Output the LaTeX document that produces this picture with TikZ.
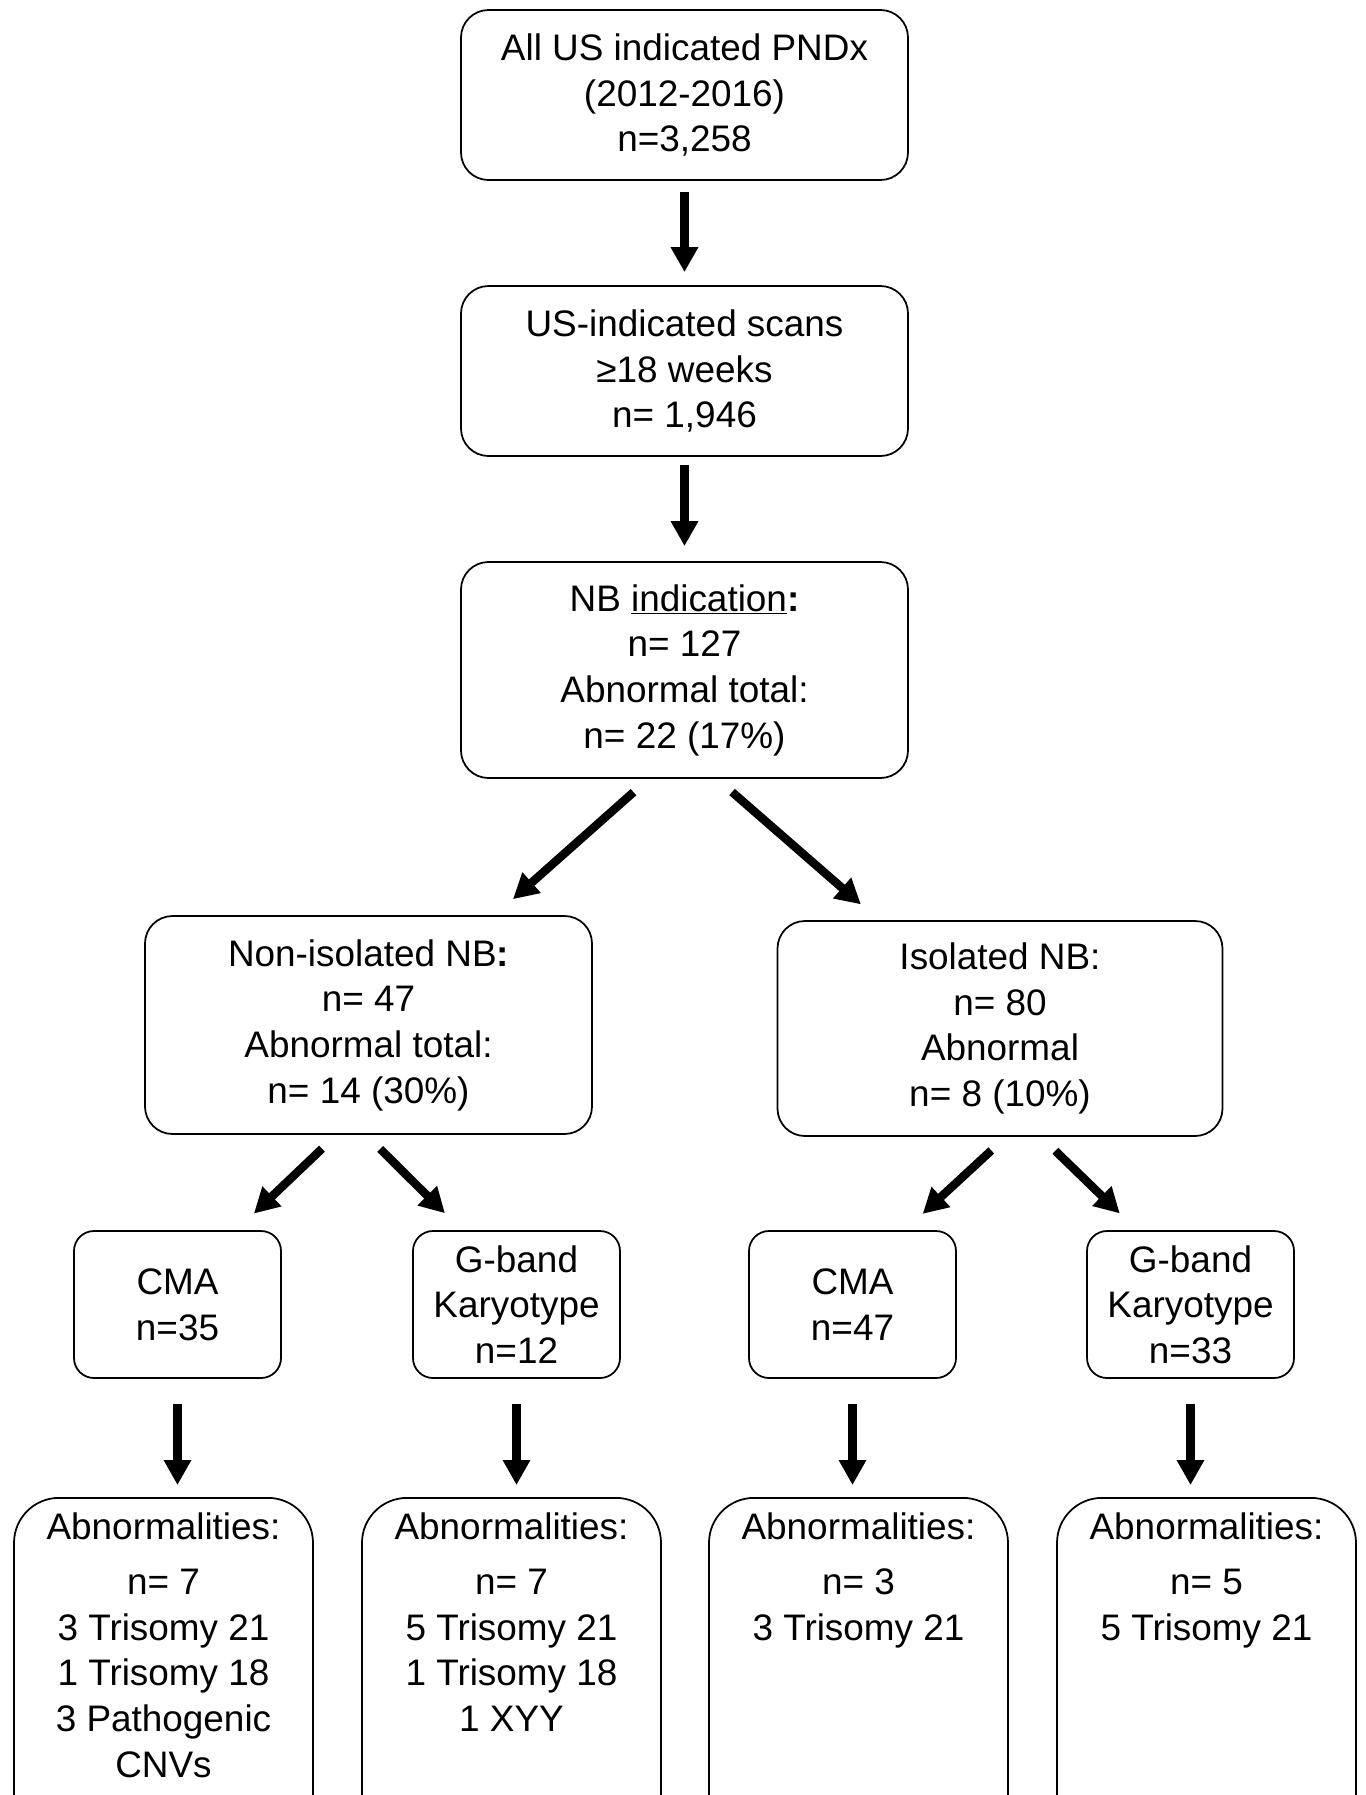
\documentclass[tikz,border=0pt]{standalone}
\usepackage{fontspec}
\setmainfont{Liberation Sans}
\usetikzlibrary{arrows.meta}
\tikzset{
  txt/.style={font=\fontsize{21}{26}\selectfont, align=center},
  box/.style={txt, draw, line width=1pt, rounded corners=0.55cm, minimum width=8.94cm},
  testbox/.style={txt, draw, line width=1pt, rounded corners=0.4cm, minimum width=4.14cm, minimum height=2.94cm},
  resbox/.style={txt, draw, line width=1pt, rounded corners=0.9cm, minimum width=5.98cm, anchor=north, text depth=8cm, inner ysep=0.3cm},
  arr/.style={line width=4.8pt, -{Triangle[length=0.5cm,width=0.52cm]}, shorten <=0.4cm, shorten >=0.48cm}
}
\begin{document}
\begin{tikzpicture}
\useasboundingbox (0,0) rectangle (27.3,-35.9);
% Main stream of cases
\node [box, minimum height=3.4cm] (all) at (13.69,-1.9)
	{All US indicated PNDx\\(2012-2016)\\n=3,258};
\node [box, minimum height=3.4cm] (scans) at (13.69,-7.42)
	{US-indicated scans\\≥18 weeks\\n= 1,946};
\node [box, minimum height=4.32cm] (nb) at (13.69,-13.4)
	{NB \underline{indication}\textbf{:}\\n= 127\\Abnormal total:\\n= 22 (17\%)};
\draw [arr, shorten <=0.22cm, shorten >=0.26cm] (all) -- (scans);
\draw [arr, shorten <=0.16cm, shorten >=0.3cm] (scans) -- (nb);
% Non-isolated and isolated NB
\node [box, minimum height=4.36cm] (nonisol) at (7.37,-20.5)
	{Non-isolated NB\textbf{:}\\n= 47\\Abnormal total:\\n= 14 (30\%)};
\node [box, minimum width=8.9cm, minimum height=4.3cm] (isol) at (20,-20.57)
	{Isolated NB:\\n= 80\\Abnormal\\n= 8 (10\%)};
\draw [arr] ([xshift=-0.72cm]nb.south) -- ([xshift=2.53cm]nonisol.north);
\draw [arr] ([xshift=0.65cm]nb.south) -- ([xshift=-2.42cm]isol.north);
% Tests
\node [testbox] (cmaA) at (3.55,-26.09) {CMA\\n=35};
\node [testbox] (gbandA) at (10.33,-26.09) {G-band\\Karyotype\\n=12};
\node [testbox] (cmaB) at (17.05,-26.09) {CMA\\n=47};
\node [testbox] (gbandB) at (23.81,-26.09) {G-band\\Karyotype\\n=33};
\draw [arr] ([xshift=-0.64cm]nonisol.south) -- ([xshift=1.18cm]cmaA.north);
\draw [arr] ([xshift=-0.05cm]nonisol.south) -- ([xshift=-1.09cm]gbandA.north);
\draw [arr] ([xshift=0.12cm]isol.south) -- ([xshift=1.05cm]cmaB.north);
\draw [arr] ([xshift=0.82cm]isol.south) -- ([xshift=-1.07cm]gbandB.north);
% Abnormalities found
\node [resbox] (abnA) at (3.27,-29.94)
	{Abnormalities:\\[0.18cm]n= 7\\3 Trisomy 21\\1 Trisomy 18\\3 Pathogenic\\CNVs};
\node [resbox] (abnB) at (10.23,-29.94)
	{Abnormalities:\\[0.18cm]n= 7\\5 Trisomy 21\\1 Trisomy 18\\1 XYY};
\node [resbox] (abnC) at (17.17,-29.94)
	{Abnormalities:\\[0.18cm]n= 3\\3 Trisomy 21};
\node [resbox] (abnD) at (24.13,-29.94)
	{Abnormalities:\\[0.18cm]n= 5\\5 Trisomy 21};
\foreach \t/\r in {cmaA/abnA, gbandA/abnB, cmaB/abnC, gbandB/abnD}
	\draw [arr, shorten <=0.5cm, shorten >=0.24cm] (\t.south) -- (\t.south |- \r.north);
\end{tikzpicture}
\end{document}
